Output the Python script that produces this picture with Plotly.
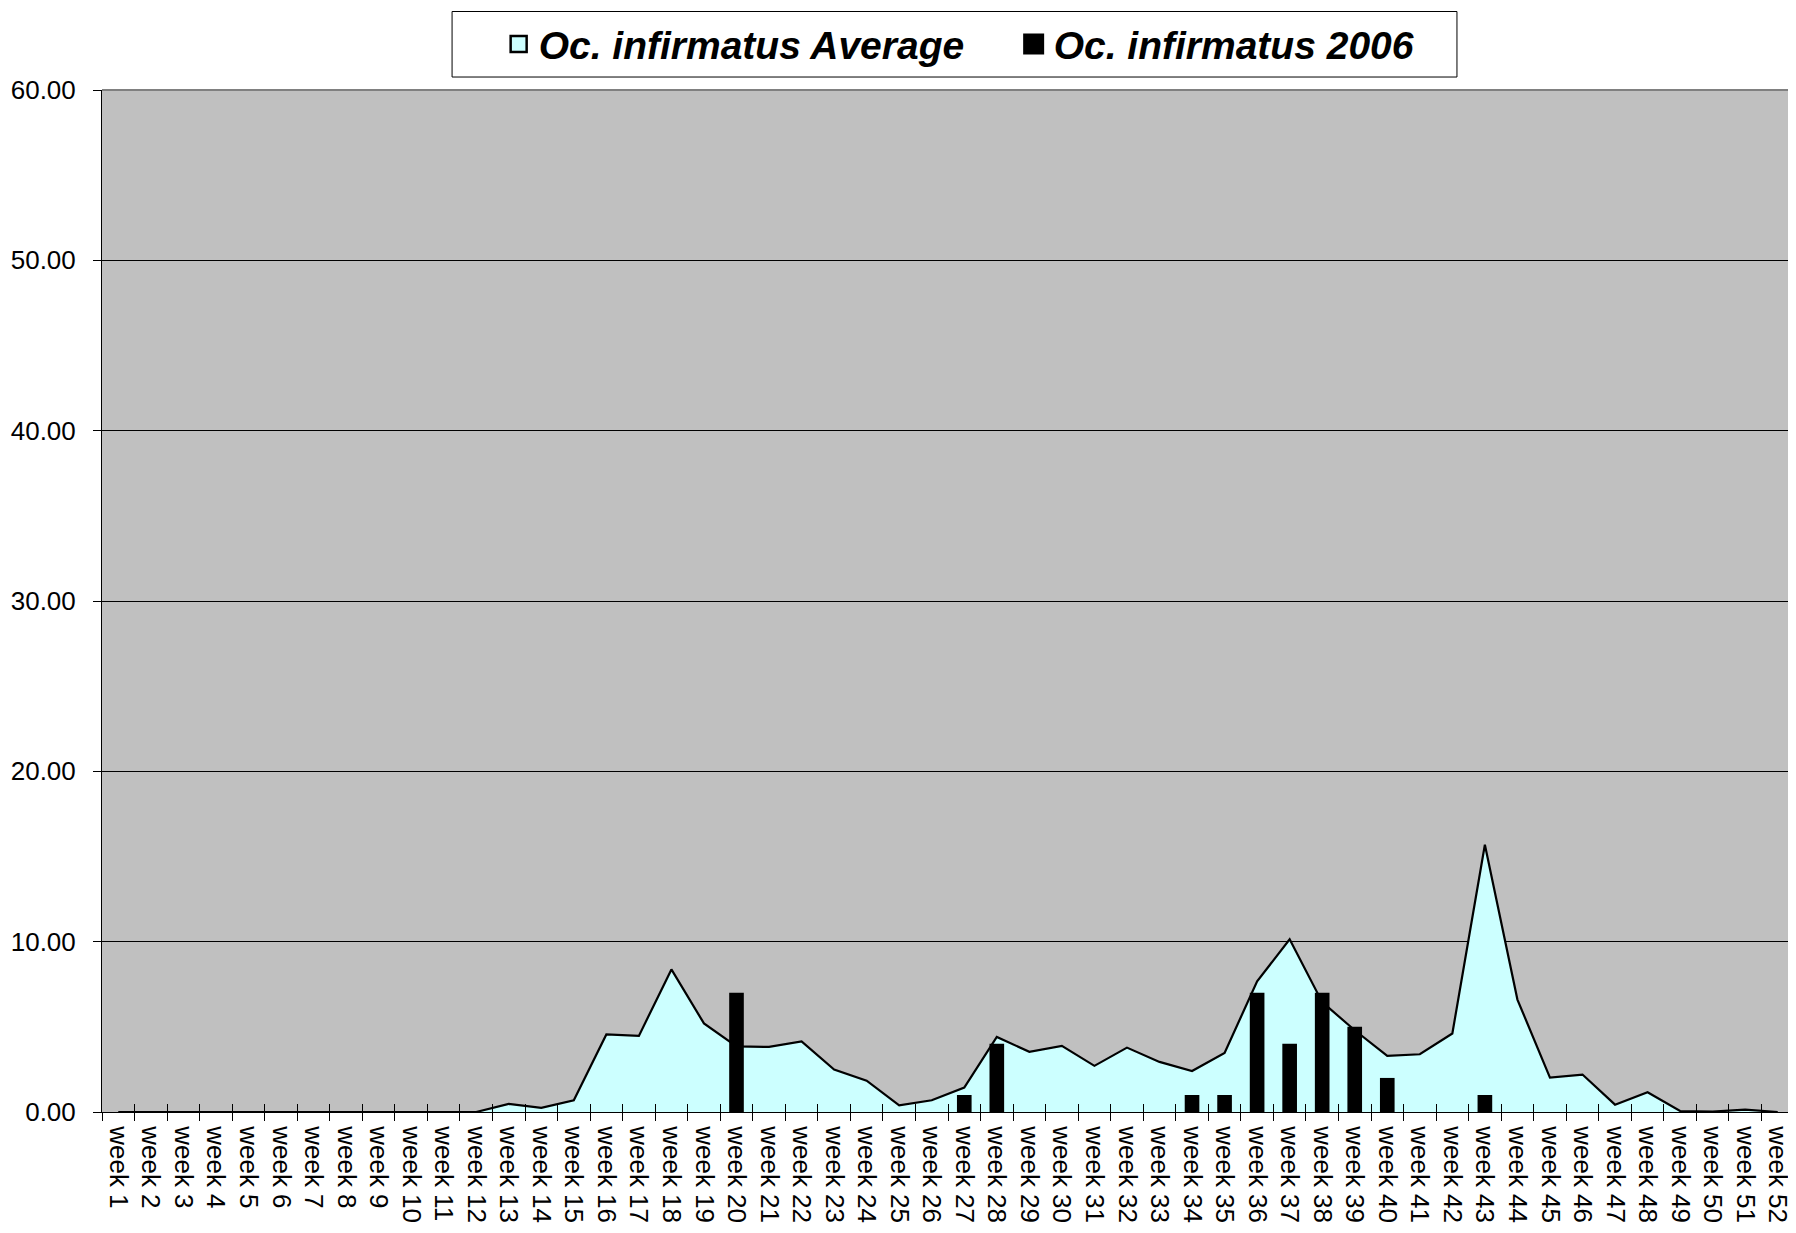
import plotly.graph_objects as go

weeks = [f"week {i}" for i in range(1, 53)]

avg_values = [0, 0, 0, 0, 0, 0, 0, 0, 0, 0, 0, 0,
              0.48, 0.24, 0.69, 4.55, 4.47, 8.37, 5.2, 3.85, 3.82, 4.14,
              2.49, 1.84, 0.39, 0.69, 1.43, 4.41, 3.53, 3.88, 2.71, 3.78,
              2.94, 2.41, 3.47, 7.67, 10.14, 6.45, 4.8, 3.29, 3.39, 4.61,
              15.69, 6.6, 2.02, 2.2, 0.43, 1.16, 0.06, 0.02, 0.14, 0.0]

values_2006 = [0, 0, 0, 0, 0, 0, 0, 0, 0, 0, 0, 0,
               0, 0, 0, 0, 0, 0, 0, 7, 0, 0,
               0, 0, 0, 0, 1, 4, 0, 0, 0, 0,
               0, 1, 1, 7, 4, 7, 5, 2, 0, 0,
               1, 0, 0, 0, 0, 0, 0, 0, 0, 0]

name_avg = "Oc. infirmatus Average"
name_2006 = "Oc. infirmatus 2006"

FONT = "Liberation Sans, Arial, sans-serif"

fig = go.Figure()

fig.add_trace(go.Scatter(
    x=weeks, y=avg_values, mode="lines", fill="tozeroy",
    fillcolor="#CCFFFF", line=dict(color="black", width=2.2),
    showlegend=False, xaxis="x", yaxis="y", hoverinfo="skip"))

fig.add_trace(go.Bar(
    x=weeks, y=values_2006, width=0.45,
    marker=dict(color="black", line=dict(width=0)),
    showlegend=False, xaxis="x2", yaxis="y2"))

# legend entries
fig.add_trace(go.Scatter(
    x=[None], y=[None], mode="markers", name=name_avg,
    marker=dict(symbol="square", size=19, color="#CCFFFF",
                line=dict(color="black", width=2.5))))
fig.add_trace(go.Scatter(
    x=[None], y=[None], mode="markers", name=name_2006,
    marker=dict(symbol="square", size=19, color="black",
                line=dict(color="black", width=5))))

common_x = dict(type="category", categoryorder="array", categoryarray=weeks,
                range=[-0.5, 51.5], showgrid=False, zeroline=False)

fig.update_layout(
    width=1788, height=1225, autosize=False,
    margin=dict(l=94, r=2, t=82, b=121),
    paper_bgcolor="white", plot_bgcolor="#C0C0C0",
    font=dict(family=FONT, color="black"),
    bargap=0.55,
    xaxis=dict(**common_x, showline=True, linecolor="black", linewidth=1,
               ticks="outside", tickson="boundaries", ticklen=8,
               tickcolor="black", tickwidth=1, tickangle=90,
               ticklabelstandoff=8,
               tickfont=dict(family=FONT, size=26, color="black")),
    xaxis2=dict(**common_x, overlaying="x", anchor="y2", side="bottom",
                ticks="inside", tickson="boundaries", ticklen=8,
                tickcolor="black", tickwidth=1, showticklabels=False,
                showline=False),
    yaxis=dict(range=[0, 60], dtick=10, tickformat=".2f",
               showgrid=True, gridcolor="black", gridwidth=1,
               zeroline=False, showline=True, linecolor="black", linewidth=1,
               ticks="outside", ticklen=8, tickcolor="black",
               ticklabelstandoff=12,
               tickfont=dict(family=FONT, size=26, color="black")),
    yaxis2=dict(range=[0, 60], overlaying="y", showgrid=False,
                zeroline=False, showticklabels=False, showline=False,
                ticks=""),
    legend=dict(orientation="h", x=0.5388, xanchor="center",
                y=1.0448, yanchor="middle",
                bgcolor="rgba(0,0,0,0)", borderwidth=0,
                font=dict(family=FONT, size=39, weight="bold",
                          style="italic", color="black"),
                itemwidth=30, entrywidth=470),
    shapes=[
        dict(type="rect", xref="paper", yref="paper",
             x0=0.2069, x1=0.8008, y0=1.0127, y1=1.0768,
             line=dict(color="black", width=1), fillcolor="white",
             layer="below"),
        dict(type="line", xref="paper", yref="paper",
             x0=0, x1=1, y0=1, y1=1,
             line=dict(color="#808080", width=2), layer="above"),
        dict(type="line", xref="paper", yref="paper",
             x0=1, x1=1, y0=0, y1=1,
             line=dict(color="#808080", width=2), layer="above"),
    ],
)

fig.write_html("out.html")
